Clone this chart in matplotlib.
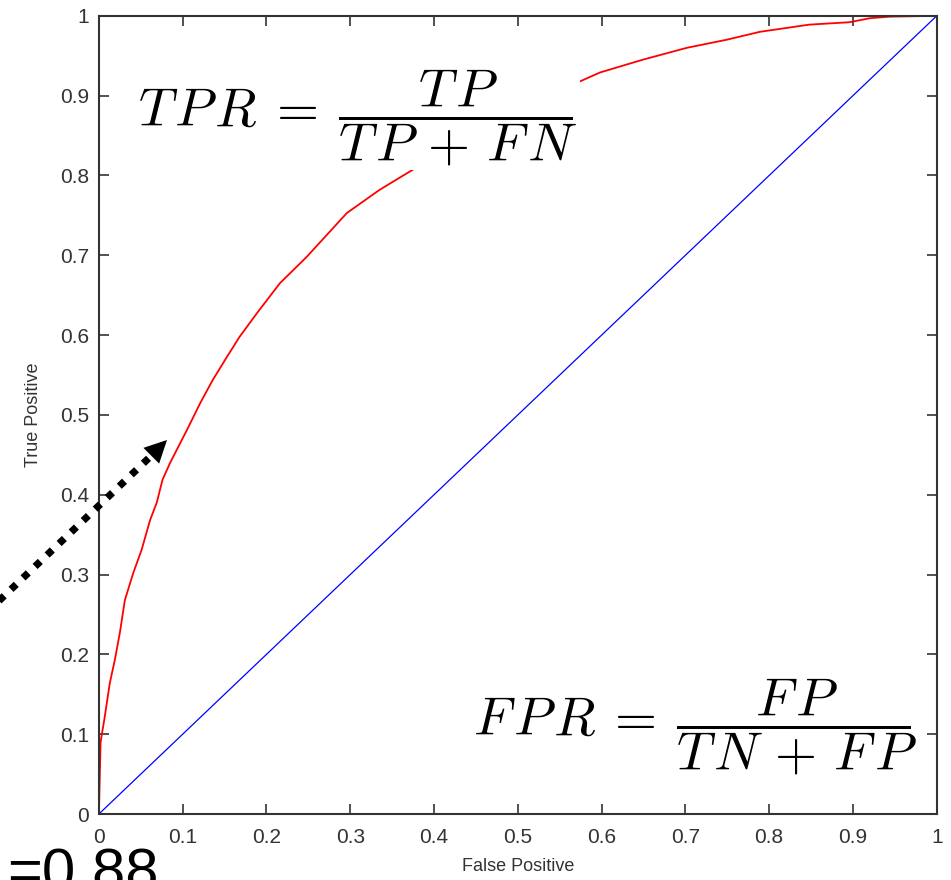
import numpy as np
import matplotlib
matplotlib.use("Agg")
import matplotlib.pyplot as plt
from matplotlib.lines import Line2D
from matplotlib.ticker import FormatStrFormatter, MultipleLocator

plt.rcParams['font.family'] = ['Liberation Sans', 'DejaVu Sans']
plt.rcParams['mathtext.fontset'] = 'cm'

fpr = [0.0, 0.002, 0.007, 0.013, 0.019, 0.025, 0.031, 0.041, 0.051, 0.061,
       0.069, 0.076, 0.085, 0.105, 0.121, 0.136, 0.153, 0.168, 0.189, 0.216,
       0.248, 0.296, 0.335, 0.368, 0.419, 0.479, 0.526, 0.566, 0.598, 0.649,
       0.702, 0.749, 0.789, 0.848, 0.896, 0.920, 0.944, 1.0]
tpr = [0.0, 0.09, 0.122, 0.164, 0.193, 0.227, 0.268, 0.302, 0.331, 0.368,
       0.390, 0.419, 0.440, 0.481, 0.515, 0.544, 0.573, 0.598, 0.628, 0.665,
       0.698, 0.753, 0.782, 0.803, 0.835, 0.867, 0.892, 0.914, 0.929, 0.945,
       0.960, 0.970, 0.980, 0.989, 0.992, 0.997, 0.999, 1.0]

# chance line
chance = [0.0, 1.0]

auc_label = "=0.88"
tpr_formula = r"$T\!\;P\!\;R\:=\:\dfrac{T\!\;P}{T\!\;P\,+\,F\!\;N}$"
fpr_formula = r"$F\!\;P\!\;R\:=\:\dfrac{F\!\;P}{T\!\;N\,+\,F\!\;P}$"

fig = plt.figure(figsize=(9.51, 8.8), dpi=100)
ax = fig.add_axes([0.104, 0.075, 0.881, 0.907])

ax.plot(chance, chance, color='blue', lw=0.9)
ax.plot(fpr, tpr, color='red', lw=1.3)

ax.set_xlim(0, 1)
ax.set_ylim(0, 1)
for a in (ax.xaxis, ax.yaxis):
    a.set_major_locator(MultipleLocator(0.1))
    a.set_major_formatter(FormatStrFormatter('%g'))
ax.tick_params(direction='in', length=7, width=1.2, colors='#333333',
               labelsize=15, top=True, right=True)
ax.tick_params(axis='x', pad=10)
ax.tick_params(axis='y', pad=7)
for s in ax.spines.values():
    s.set_color('#333333')
    s.set_linewidth(1.5)

ax.set_xlabel("False Positive", fontsize=13, color='#333333', labelpad=8)
ax.set_ylabel("True Positive", fontsize=13, color='#333333', labelpad=13)

# formulas sit on white boxes that hide the curve behind them
ax.text(0.047, 0.873, tpr_formula, fontsize=39, ha='left', va='center',
        bbox=dict(facecolor='white', edgecolor='none', pad=2), zorder=5)
ax.text(0.446, 0.110, fpr_formula, fontsize=39, ha='left', va='center',
        bbox=dict(facecolor='white', edgecolor='none', pad=2), zorder=5)

# dotted pointer coming in from the left edge
W, H = 951.0, 880.0
tip = (167, 440)
base = (151, 456)
tail = (-60, 657)
line = Line2D([tail[0] / W, base[0] / W], [1 - tail[1] / H, 1 - base[1] / H],
              transform=fig.transFigure, color='black', lw=5.2,
              linestyle=(0, (1, 1.3)), dash_capstyle='butt')
fig.add_artist(line)
ax.annotate('', xy=(tip[0], H - tip[1]), xytext=(base[0] - 8, H - base[1] - 8),
            xycoords='figure pixels', textcoords='figure pixels',
            arrowprops=dict(arrowstyle='-|>,head_length=0.8,head_width=0.4',
                            color='black', lw=0, mutation_scale=20,
                            shrinkA=0, shrinkB=0))

fig.text(7 / W, -10 / H, auc_label, fontsize=43, ha='left', va='baseline')

fig.savefig("out.png", dpi=100)
